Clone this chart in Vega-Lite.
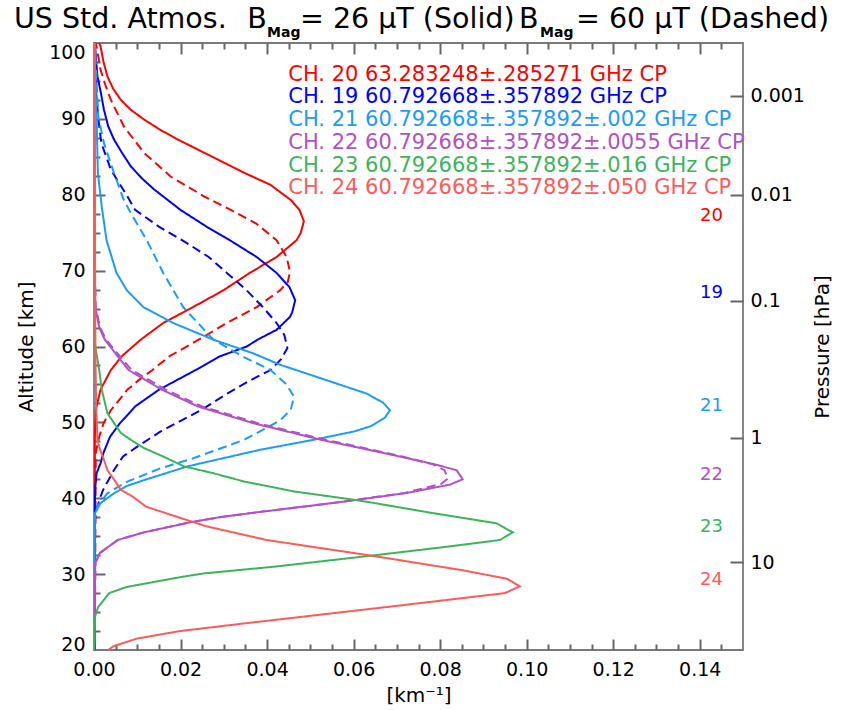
{
  "$schema": "https://vega.github.io/schema/vega-lite/v6.json",
  "width": 649,
  "height": 607,
  "autosize": {"type": "none"},
  "padding": {"left": 94, "top": 43, "right": 100, "bottom": 60},
  "background": "white",
  "config": {
    "font": "DejaVu Sans",
    "view": {"stroke": "#7a7a7a", "strokeWidth": 1.8},
    "axis": {"domain": false, "grid": false, "zindex": 1, "tickColor": "#666666", "tickWidth": 2, "labelColor": "#000000", "labelFontSize": 19, "labelFont": "DejaVu Sans", "titleColor": "#000000", "titleFontSize": 20, "titleFontWeight": "normal", "titleFont": "DejaVu Sans", "labelFlush": false, "labelOverlap": false}
  },
  "datasets": {
    "wf": [
      {"ch":"20","bmag":"26","alt":100,"w":0.0012},{"ch":"20","bmag":"26","alt":99.6,"w":0.0015},{"ch":"20","bmag":"26","alt":97.5,"w":0.0022},{"ch":"20","bmag":"26","alt":95.6,"w":0.0031},{"ch":"20","bmag":"26","alt":94,"w":0.0044},{"ch":"20","bmag":"26","alt":92.5,"w":0.0062},{"ch":"20","bmag":"26","alt":91.2,"w":0.0085},{"ch":"20","bmag":"26","alt":89.9,"w":0.0116},{"ch":"20","bmag":"26","alt":88.6,"w":0.0152},{"ch":"20","bmag":"26","alt":87.3,"w":0.0193},{"ch":"20","bmag":"26","alt":85.1,"w":0.027},{"ch":"20","bmag":"26","alt":82.9,"w":0.0347},{"ch":"20","bmag":"26","alt":81.3,"w":0.0408},{"ch":"20","bmag":"26","alt":79.3,"w":0.0455},{"ch":"20","bmag":"26","alt":78,"w":0.0475},{"ch":"20","bmag":"26","alt":76.5,"w":0.0485},{"ch":"20","bmag":"26","alt":75,"w":0.0478},{"ch":"20","bmag":"26","alt":74,"w":0.0468},{"ch":"20","bmag":"26","alt":71.8,"w":0.0422},{"ch":"20","bmag":"26","alt":69.7,"w":0.036},{"ch":"20","bmag":"26","alt":67.4,"w":0.0299},{"ch":"20","bmag":"26","alt":65.2,"w":0.0229},{"ch":"20","bmag":"26","alt":63.1,"w":0.016},{"ch":"20","bmag":"26","alt":60.9,"w":0.0108},{"ch":"20","bmag":"26","alt":58.7,"w":0.0064},{"ch":"20","bmag":"26","alt":56.9,"w":0.0039},{"ch":"20","bmag":"26","alt":54.3,"w":0.0015},{"ch":"20","bmag":"26","alt":51.6,"w":0.0004},{"ch":"20","bmag":"26","alt":48,"w":0.0002},{"ch":"20","bmag":"26","alt":20,"w":0.0002},
      {"ch":"20","bmag":"60","alt":100,"w":0.0004},{"ch":"20","bmag":"60","alt":98.5,"w":0.0009},{"ch":"20","bmag":"60","alt":96.5,"w":0.0015},{"ch":"20","bmag":"60","alt":94.5,"w":0.0026},{"ch":"20","bmag":"60","alt":92.5,"w":0.0039},{"ch":"20","bmag":"60","alt":89,"w":0.0069},{"ch":"20","bmag":"60","alt":85.5,"w":0.0116},{"ch":"20","bmag":"60","alt":82.4,"w":0.0177},{"ch":"20","bmag":"60","alt":79.8,"w":0.0254},{"ch":"20","bmag":"60","alt":78,"w":0.0316},{"ch":"20","bmag":"60","alt":76.2,"w":0.0375},{"ch":"20","bmag":"60","alt":74,"w":0.0422},{"ch":"20","bmag":"60","alt":71.8,"w":0.0445},{"ch":"20","bmag":"60","alt":69.9,"w":0.0453},{"ch":"20","bmag":"60","alt":68.5,"w":0.0448},{"ch":"20","bmag":"60","alt":67.4,"w":0.043},{"ch":"20","bmag":"60","alt":65.2,"w":0.0376},{"ch":"20","bmag":"60","alt":63.1,"w":0.0307},{"ch":"20","bmag":"60","alt":60.9,"w":0.0242},{"ch":"20","bmag":"60","alt":58.7,"w":0.0174},{"ch":"20","bmag":"60","alt":56.9,"w":0.0135},{"ch":"20","bmag":"60","alt":55.5,"w":0.0102},{"ch":"20","bmag":"60","alt":54.3,"w":0.0077},{"ch":"20","bmag":"60","alt":51.6,"w":0.0039},{"ch":"20","bmag":"60","alt":49.9,"w":0.0022},{"ch":"20","bmag":"60","alt":48.1,"w":0.0012},{"ch":"20","bmag":"60","alt":46,"w":0.0004},{"ch":"20","bmag":"60","alt":20,"w":0.0002},
      {"ch":"19","bmag":"26","alt":100,"w":0.0002},{"ch":"19","bmag":"26","alt":97.5,"w":0.0005},{"ch":"19","bmag":"26","alt":95.6,"w":0.0008},{"ch":"19","bmag":"26","alt":93.4,"w":0.0016},{"ch":"19","bmag":"26","alt":91.2,"w":0.0023},{"ch":"19","bmag":"26","alt":89,"w":0.0033},{"ch":"19","bmag":"26","alt":87.3,"w":0.0046},{"ch":"19","bmag":"26","alt":85.5,"w":0.0065},{"ch":"19","bmag":"26","alt":83.75,"w":0.0085},{"ch":"19","bmag":"26","alt":82.2,"w":0.011},{"ch":"19","bmag":"26","alt":80.7,"w":0.0139},{"ch":"19","bmag":"26","alt":78,"w":0.02},{"ch":"19","bmag":"26","alt":75.8,"w":0.026},{"ch":"19","bmag":"26","alt":74,"w":0.0314},{"ch":"19","bmag":"26","alt":71.8,"w":0.0376},{"ch":"19","bmag":"26","alt":69.7,"w":0.0422},{"ch":"19","bmag":"26","alt":67.8,"w":0.0452},{"ch":"19","bmag":"26","alt":66.1,"w":0.0465},{"ch":"19","bmag":"26","alt":64.5,"w":0.0458},{"ch":"19","bmag":"26","alt":63.9,"w":0.0453},{"ch":"19","bmag":"26","alt":62.2,"w":0.0422},{"ch":"19","bmag":"26","alt":60.9,"w":0.0378},{"ch":"19","bmag":"26","alt":60,"w":0.0353},{"ch":"19","bmag":"26","alt":58.7,"w":0.0291},{"ch":"19","bmag":"26","alt":56.9,"w":0.0235},{"ch":"19","bmag":"26","alt":54.3,"w":0.015},{"ch":"19","bmag":"26","alt":52.1,"w":0.0095},{"ch":"19","bmag":"26","alt":50.75,"w":0.0074},{"ch":"19","bmag":"26","alt":49.9,"w":0.006},{"ch":"19","bmag":"26","alt":48.1,"w":0.0037},{"ch":"19","bmag":"26","alt":46,"w":0.0022},{"ch":"19","bmag":"26","alt":44.6,"w":0.0015},{"ch":"19","bmag":"26","alt":43.3,"w":0.0006},{"ch":"19","bmag":"26","alt":41.5,"w":0.0003},{"ch":"19","bmag":"26","alt":38,"w":0.0001},{"ch":"19","bmag":"26","alt":20,"w":0},
      {"ch":"19","bmag":"60","alt":100,"w":0.0001},{"ch":"19","bmag":"60","alt":96,"w":0.0003},{"ch":"19","bmag":"60","alt":93.4,"w":0.0005},{"ch":"19","bmag":"60","alt":90,"w":0.001},{"ch":"19","bmag":"60","alt":86.8,"w":0.0017},{"ch":"19","bmag":"60","alt":83.3,"w":0.0039},{"ch":"19","bmag":"60","alt":79.8,"w":0.0077},{"ch":"19","bmag":"60","alt":78,"w":0.0095},{"ch":"19","bmag":"60","alt":75.8,"w":0.015},{"ch":"19","bmag":"60","alt":73.8,"w":0.021},{"ch":"19","bmag":"60","alt":71.8,"w":0.0265},{"ch":"19","bmag":"60","alt":69.7,"w":0.0307},{"ch":"19","bmag":"60","alt":67.4,"w":0.0353},{"ch":"19","bmag":"60","alt":65.2,"w":0.039},{"ch":"19","bmag":"60","alt":63.1,"w":0.0422},{"ch":"19","bmag":"60","alt":61.5,"w":0.044},{"ch":"19","bmag":"60","alt":59.8,"w":0.0447},{"ch":"19","bmag":"60","alt":58.3,"w":0.0432},{"ch":"19","bmag":"60","alt":56.9,"w":0.0408},{"ch":"19","bmag":"60","alt":55.5,"w":0.036},{"ch":"19","bmag":"60","alt":53.8,"w":0.0308},{"ch":"19","bmag":"60","alt":51.6,"w":0.0247},{"ch":"19","bmag":"60","alt":48.8,"w":0.0154},{"ch":"19","bmag":"60","alt":46.8,"w":0.01},{"ch":"19","bmag":"60","alt":45.5,"w":0.0067},{"ch":"19","bmag":"60","alt":43.7,"w":0.0046},{"ch":"19","bmag":"60","alt":41.1,"w":0.0021},{"ch":"19","bmag":"60","alt":40.2,"w":0.0015},{"ch":"19","bmag":"60","alt":38,"w":0.0003},{"ch":"19","bmag":"60","alt":34,"w":0.0001},{"ch":"19","bmag":"60","alt":20,"w":0},
      {"ch":"21","bmag":"26","alt":100,"w":0.0001},{"ch":"21","bmag":"26","alt":95,"w":0.0003},{"ch":"21","bmag":"26","alt":90,"w":0.0006},{"ch":"21","bmag":"26","alt":82.8,"w":0.0009},{"ch":"21","bmag":"26","alt":78.4,"w":0.0018},{"ch":"21","bmag":"26","alt":74,"w":0.0029},{"ch":"21","bmag":"26","alt":69.7,"w":0.0052},{"ch":"21","bmag":"26","alt":67.4,"w":0.0076},{"ch":"21","bmag":"26","alt":65.2,"w":0.0114},{"ch":"21","bmag":"26","alt":63.1,"w":0.0183},{"ch":"21","bmag":"26","alt":60.9,"w":0.0276},{"ch":"21","bmag":"26","alt":59.1,"w":0.0368},{"ch":"21","bmag":"26","alt":57.6,"w":0.043},{"ch":"21","bmag":"26","alt":55.7,"w":0.053},{"ch":"21","bmag":"26","alt":53.8,"w":0.063},{"ch":"21","bmag":"26","alt":52.6,"w":0.0668},{"ch":"21","bmag":"26","alt":51.6,"w":0.0684},{"ch":"21","bmag":"26","alt":50.6,"w":0.0672},{"ch":"21","bmag":"26","alt":49.5,"w":0.064},{"ch":"21","bmag":"26","alt":48.8,"w":0.0601},{"ch":"21","bmag":"26","alt":47.7,"w":0.0507},{"ch":"21","bmag":"26","alt":46.4,"w":0.0385},{"ch":"21","bmag":"26","alt":45.1,"w":0.0285},{"ch":"21","bmag":"26","alt":44.2,"w":0.0216},{"ch":"21","bmag":"26","alt":43.3,"w":0.0166},{"ch":"21","bmag":"26","alt":42.4,"w":0.0116},{"ch":"21","bmag":"26","alt":41.6,"w":0.0075},{"ch":"21","bmag":"26","alt":40.65,"w":0.0046},{"ch":"21","bmag":"26","alt":39.35,"w":0.0015},{"ch":"21","bmag":"26","alt":38,"w":0.0002},{"ch":"21","bmag":"26","alt":20,"w":0},
      {"ch":"21","bmag":"60","alt":100,"w":0.0002},{"ch":"21","bmag":"60","alt":95,"w":0.0006},{"ch":"21","bmag":"60","alt":90.3,"w":0.001},{"ch":"21","bmag":"60","alt":86.8,"w":0.0023},{"ch":"21","bmag":"60","alt":82.9,"w":0.0046},{"ch":"21","bmag":"60","alt":79.3,"w":0.0069},{"ch":"21","bmag":"60","alt":77.6,"w":0.0085},{"ch":"21","bmag":"60","alt":74,"w":0.0122},{"ch":"21","bmag":"60","alt":69.7,"w":0.016},{"ch":"21","bmag":"60","alt":65.2,"w":0.0206},{"ch":"21","bmag":"60","alt":60.9,"w":0.0276},{"ch":"21","bmag":"60","alt":58.5,"w":0.035},{"ch":"21","bmag":"60","alt":56.9,"w":0.0408},{"ch":"21","bmag":"60","alt":55,"w":0.0445},{"ch":"21","bmag":"60","alt":53.4,"w":0.0462},{"ch":"21","bmag":"60","alt":51.7,"w":0.0455},{"ch":"21","bmag":"60","alt":50.3,"w":0.0431},{"ch":"21","bmag":"60","alt":49,"w":0.039},{"ch":"21","bmag":"60","alt":47.7,"w":0.0347},{"ch":"21","bmag":"60","alt":45.3,"w":0.0231},{"ch":"21","bmag":"60","alt":43.95,"w":0.0154},{"ch":"21","bmag":"60","alt":42.2,"w":0.0077},{"ch":"21","bmag":"60","alt":40.65,"w":0.0031},{"ch":"21","bmag":"60","alt":39,"w":0.0008},{"ch":"21","bmag":"60","alt":37,"w":0.0001},{"ch":"21","bmag":"60","alt":20,"w":0},
      {"ch":"22","bmag":"26","alt":100,"w":0.0001},{"ch":"22","bmag":"26","alt":70,"w":0.0002},{"ch":"22","bmag":"26","alt":65.2,"w":0.0003},{"ch":"22","bmag":"26","alt":62.5,"w":0.0012},{"ch":"22","bmag":"26","alt":60.9,"w":0.0025},{"ch":"22","bmag":"26","alt":58.7,"w":0.0055},{"ch":"22","bmag":"26","alt":56.9,"w":0.008},{"ch":"22","bmag":"26","alt":54.3,"w":0.0157},{"ch":"22","bmag":"26","alt":52.1,"w":0.024},{"ch":"22","bmag":"26","alt":49.9,"w":0.0368},{"ch":"22","bmag":"26","alt":47.7,"w":0.0525},{"ch":"22","bmag":"26","alt":46.8,"w":0.0601},{"ch":"22","bmag":"26","alt":45.5,"w":0.0707},{"ch":"22","bmag":"26","alt":44.5,"w":0.0785},{"ch":"22","bmag":"26","alt":43.7,"w":0.0838},{"ch":"22","bmag":"26","alt":42.5,"w":0.0852},{"ch":"22","bmag":"26","alt":41.8,"w":0.0823},{"ch":"22","bmag":"26","alt":40.7,"w":0.0723},{"ch":"22","bmag":"26","alt":39.5,"w":0.057},{"ch":"22","bmag":"26","alt":38.1,"w":0.037},{"ch":"22","bmag":"26","alt":37.5,"w":0.029},{"ch":"22","bmag":"26","alt":36.8,"w":0.022},{"ch":"22","bmag":"26","alt":35.5,"w":0.0115},{"ch":"22","bmag":"26","alt":34.5,"w":0.0055},{"ch":"22","bmag":"26","alt":33.6,"w":0.0033},{"ch":"22","bmag":"26","alt":32.8,"w":0.0014},{"ch":"22","bmag":"26","alt":31.5,"w":0.0003},{"ch":"22","bmag":"26","alt":20,"w":0},
      {"ch":"22","bmag":"60","alt":100,"w":0.0001},{"ch":"22","bmag":"60","alt":70,"w":0.0002},{"ch":"22","bmag":"60","alt":65.2,"w":0.0004},{"ch":"22","bmag":"60","alt":62.5,"w":0.0014},{"ch":"22","bmag":"60","alt":60.9,"w":0.0028},{"ch":"22","bmag":"60","alt":58.7,"w":0.006},{"ch":"22","bmag":"60","alt":56.9,"w":0.0087},{"ch":"22","bmag":"60","alt":54.3,"w":0.0166},{"ch":"22","bmag":"60","alt":52.1,"w":0.025},{"ch":"22","bmag":"60","alt":49.9,"w":0.0378},{"ch":"22","bmag":"60","alt":47.7,"w":0.0535},{"ch":"22","bmag":"60","alt":46.8,"w":0.061},{"ch":"22","bmag":"60","alt":45.5,"w":0.0712},{"ch":"22","bmag":"60","alt":44.5,"w":0.0782},{"ch":"22","bmag":"60","alt":43.7,"w":0.081},{"ch":"22","bmag":"60","alt":42.6,"w":0.0818},{"ch":"22","bmag":"60","alt":41.9,"w":0.0803},{"ch":"22","bmag":"60","alt":40.7,"w":0.0718},{"ch":"22","bmag":"60","alt":39.5,"w":0.057},{"ch":"22","bmag":"60","alt":38.1,"w":0.037},{"ch":"22","bmag":"60","alt":37.5,"w":0.029},{"ch":"22","bmag":"60","alt":36.8,"w":0.022},{"ch":"22","bmag":"60","alt":35.5,"w":0.0115},{"ch":"22","bmag":"60","alt":34.5,"w":0.0055},{"ch":"22","bmag":"60","alt":33.6,"w":0.0033},{"ch":"22","bmag":"60","alt":32.8,"w":0.0014},{"ch":"22","bmag":"60","alt":31.5,"w":0.0003},{"ch":"22","bmag":"60","alt":20,"w":0},
      {"ch":"23","bmag":"26","alt":100,"w":0.0001},{"ch":"23","bmag":"26","alt":70,"w":0.0001},{"ch":"23","bmag":"26","alt":60,"w":0.0003},{"ch":"23","bmag":"26","alt":56.9,"w":0.0012},{"ch":"23","bmag":"26","alt":54.3,"w":0.0018},{"ch":"23","bmag":"26","alt":51.2,"w":0.0031},{"ch":"23","bmag":"26","alt":48.6,"w":0.0062},{"ch":"23","bmag":"26","alt":47.7,"w":0.0085},{"ch":"23","bmag":"26","alt":46.6,"w":0.0116},{"ch":"23","bmag":"26","alt":45.5,"w":0.016},{"ch":"23","bmag":"26","alt":44.2,"w":0.0208},{"ch":"23","bmag":"26","alt":43.3,"w":0.0276},{"ch":"23","bmag":"26","alt":42.2,"w":0.0347},{"ch":"23","bmag":"26","alt":41.5,"w":0.041},{"ch":"23","bmag":"26","alt":40.9,"w":0.0462},{"ch":"23","bmag":"26","alt":39.8,"w":0.0601},{"ch":"23","bmag":"26","alt":39.4,"w":0.0645},{"ch":"23","bmag":"26","alt":38.1,"w":0.0777},{"ch":"23","bmag":"26","alt":36.7,"w":0.093},{"ch":"23","bmag":"26","alt":35.5,"w":0.0968},{"ch":"23","bmag":"26","alt":34.5,"w":0.0938},{"ch":"23","bmag":"26","alt":33.6,"w":0.0815},{"ch":"23","bmag":"26","alt":32.3,"w":0.062},{"ch":"23","bmag":"26","alt":31,"w":0.042},{"ch":"23","bmag":"26","alt":30.1,"w":0.0255},{"ch":"23","bmag":"26","alt":29.6,"w":0.0199},{"ch":"23","bmag":"26","alt":28.3,"w":0.0075},{"ch":"23","bmag":"26","alt":27.5,"w":0.0035},{"ch":"23","bmag":"26","alt":25.6,"w":0.0009},{"ch":"23","bmag":"26","alt":24.3,"w":0.0002},{"ch":"23","bmag":"26","alt":20,"w":0},
      {"ch":"24","bmag":"26","alt":100,"w":0.0001},{"ch":"24","bmag":"26","alt":60,"w":0.0003},{"ch":"24","bmag":"26","alt":52,"w":0.0005},{"ch":"24","bmag":"26","alt":47.7,"w":0.0008},{"ch":"24","bmag":"26","alt":46.4,"w":0.0014},{"ch":"24","bmag":"26","alt":45.4,"w":0.0021},{"ch":"24","bmag":"26","alt":43.7,"w":0.0031},{"ch":"24","bmag":"26","alt":42,"w":0.0052},{"ch":"24","bmag":"26","alt":41.1,"w":0.0062},{"ch":"24","bmag":"26","alt":40.2,"w":0.009},{"ch":"24","bmag":"26","alt":38.9,"w":0.012},{"ch":"24","bmag":"26","alt":37.4,"w":0.02},{"ch":"24","bmag":"26","alt":36.3,"w":0.026},{"ch":"24","bmag":"26","alt":34.5,"w":0.0399},{"ch":"24","bmag":"26","alt":32.4,"w":0.0645},{"ch":"24","bmag":"26","alt":30.5,"w":0.0853},{"ch":"24","bmag":"26","alt":29.4,"w":0.0954},{"ch":"24","bmag":"26","alt":28.4,"w":0.0984},{"ch":"24","bmag":"26","alt":27.5,"w":0.095},{"ch":"24","bmag":"26","alt":25.7,"w":0.0682},{"ch":"24","bmag":"26","alt":23.5,"w":0.0347},{"ch":"24","bmag":"26","alt":22.5,"w":0.0199},{"ch":"24","bmag":"26","alt":21.5,"w":0.0099},{"ch":"24","bmag":"26","alt":20.5,"w":0.0045},{"ch":"24","bmag":"26","alt":20,"w":0.0033}
    ],
    "legend": [
      {"ch":"20","label":"CH. 20 63.283248±.285271 GHz CP","x":0.0449,"alt":95.78},
      {"ch":"19","label":"CH. 19 60.792668±.357892 GHz CP","x":0.0449,"alt":92.92},
      {"ch":"21","label":"CH. 21 60.792668±.357892±.002 GHz CP","x":0.0449,"alt":89.85},
      {"ch":"22","label":"CH. 22 60.792668±.357892±.0055 GHz CP","x":0.0449,"alt":86.86},
      {"ch":"23","label":"CH. 23 60.792668±.357892±.016 GHz CP","x":0.0449,"alt":83.79},
      {"ch":"24","label":"CH. 24 60.792668±.357892±.050 GHz CP","x":0.0449,"alt":80.85}
    ],
    "chlab": [
      {"ch":"20","label":"20","x":0.1427,"alt":77.2},
      {"ch":"19","label":"19","x":0.1427,"alt":67.0},
      {"ch":"21","label":"21","x":0.1427,"alt":52.16},
      {"ch":"22","label":"22","x":0.1427,"alt":43.07},
      {"ch":"23","label":"23","x":0.1427,"alt":36.25},
      {"ch":"24","label":"24","x":0.1427,"alt":29.23}
    ],
    "titlemain": [
      {"label":"US Std. Atmos.","x":-0.0185,"alt":103.16},
      {"label":"B","x":0.0354,"alt":103.16},
      {"label":"= 26 μT (Solid)","x":0.0476,"alt":103.16},
      {"label":"B","x":0.0982,"alt":103.16},
      {"label":"= 60 μT (Dashed)","x":0.1114,"alt":103.16}
    ],
    "titlesub": [
      {"label":"Mag","x":0.04,"alt":101.32},
      {"label":"Mag","x":0.1031,"alt":101.32}
    ]
  },
  "layer": [
    {
      "mark": {"type": "rule", "color": "#ff0000", "strokeWidth": 2.5},
      "encoding": {"x": {"datum": 0, "type": "quantitative", "scale": {"domain": [0, 0.15], "nice": false, "zero": false}, "axis": null}}
    },
    {
      "data": {"name": "wf"},
      "mark": {"type": "line", "strokeWidth": 2, "clip": true},
      "encoding": {
        "x": {"field": "w", "type": "quantitative", "scale": {"domain": [0, 0.15], "nice": false, "zero": false},
              "axis": {"orient": "bottom", "values": [0, 0.02, 0.04, 0.06, 0.08, 0.1, 0.12, 0.14], "format": ".2f", "title": "[km⁻¹]", "ticks": false, "labelPadding": 10, "titlePadding": 6}},
        "y": {"field": "alt", "type": "quantitative", "scale": {"domain": [20, 100], "nice": false, "zero": false},
              "axis": {"orient": "left", "values": [20, 30, 40, 50, 60, 70, 80, 90, 100], "title": "Altitude [km]", "ticks": false, "labelPadding": 9, "titlePadding": 12,
                       "labelBaseline": {"condition": [{"test": "datum.value == 100", "value": "top"}, {"test": "datum.value == 20", "value": "alphabetic"}], "value": "middle"}}},
        "color": {"field": "ch", "type": "nominal", "scale": {"domain": ["20", "19", "21", "22", "23", "24"], "range": ["#ff0000", "#0000ff", "#1a9cff", "#b44fc8", "#3cb55a", "#ff5a5a"]}, "legend": null},
        "strokeDash": {"field": "bmag", "type": "nominal", "scale": {"domain": ["26", "60"], "range": [[1, 0], [9, 5]]}, "legend": null},
        "order": {"field": "alt", "type": "quantitative"}
      }
    },
    {
      "data": {"name": "legend"},
      "mark": {"type": "text", "align": "left", "baseline": "middle", "fontSize": 21},
      "encoding": {
        "x": {"field": "x", "type": "quantitative", "scale": {"domain": [0, 0.15], "nice": false, "zero": false},
              "axis": {"orient": "bottom", "values": [0.005, 0.01, 0.015, 0.025, 0.03, 0.035, 0.045, 0.05, 0.055, 0.065, 0.07, 0.075, 0.085, 0.09, 0.095, 0.105, 0.11, 0.115, 0.125, 0.13, 0.135, 0.145], "labels": false, "title": null, "tickSize": 6, "offset": -6}},
        "y": {"field": "alt", "type": "quantitative", "scale": {"domain": [20, 100], "nice": false, "zero": false},
              "axis": {"orient": "left", "values": [22.5, 25, 27.5, 32.5, 35, 37.5, 42.5, 45, 47.5, 52.5, 55, 57.5, 62.5, 65, 67.5, 72.5, 75, 77.5, 82.5, 85, 87.5, 92.5, 95, 97.5], "labels": false, "title": null, "tickSize": 6, "offset": -6}},
        "color": {"field": "ch", "type": "nominal", "legend": null},
        "text": {"field": "label"}
      }
    },
    {
      "data": {"name": "chlab"},
      "mark": {"type": "text", "align": "center", "baseline": "middle", "fontSize": 18},
      "encoding": {
        "x": {"field": "x", "type": "quantitative", "scale": {"domain": [0, 0.15], "nice": false, "zero": false},
              "axis": {"orient": "top", "values": [0.02, 0.04, 0.06, 0.08, 0.1, 0.12, 0.14], "labels": false, "title": null, "tickSize": 11, "offset": -11}},
        "y": {"field": "alt", "type": "quantitative", "scale": {"domain": [20, 100], "nice": false, "zero": false},
              "axis": {"orient": "right", "values": [93.05, 79.97, 66.04, 47.98, 31.56], "labels": false, "title": null, "tickSize": 13, "offset": -13}},
        "color": {"field": "ch", "type": "nominal", "legend": null},
        "text": {"field": "label"}
      }
    },
    {
      "data": {"name": "titlemain"},
      "mark": {"type": "text", "align": "left", "baseline": "middle", "fontSize": 28.5, "color": "#000000"},
      "encoding": {
        "x": {"field": "x", "type": "quantitative", "scale": {"domain": [0, 0.15], "nice": false, "zero": false},
              "axis": {"orient": "top", "values": [0.005, 0.01, 0.015, 0.025, 0.03, 0.035, 0.045, 0.05, 0.055, 0.065, 0.07, 0.075, 0.085, 0.09, 0.095, 0.105, 0.11, 0.115, 0.125, 0.13, 0.135, 0.145], "labels": false, "title": null, "tickSize": 6, "offset": -6}},
        "y": {"field": "alt", "type": "quantitative", "scale": {"domain": [20, 100], "nice": false, "zero": false},
              "axis": {"orient": "left", "values": [30, 40, 50, 60, 70, 80, 90], "labels": false, "title": null, "tickSize": 11, "offset": -11}},
        "text": {"field": "label"}
      }
    },
    {
      "data": {"name": "titlesub"},
      "mark": {"type": "text", "align": "left", "baseline": "middle", "fontSize": 14, "fontWeight": "bold", "color": "#000000"},
      "encoding": {
        "x": {"field": "x", "type": "quantitative", "scale": {"domain": [0, 0.15], "nice": false, "zero": false},
              "axis": {"orient": "bottom", "values": [0.02, 0.04, 0.06, 0.08, 0.1, 0.12, 0.14], "labels": false, "title": null, "tickSize": 11, "offset": -11}},
        "y": {"field": "alt", "type": "quantitative", "scale": {"domain": [20, 100], "nice": false, "zero": false},
              "axis": {"orient": "right", "values": [93.05, 79.97, 66.04, 47.98, 31.56], "labelExpr": "datum.value > 90 ? '0.001' : datum.value > 75 ? '0.01' : datum.value > 60 ? '0.1' : datum.value > 40 ? '1' : '10'", "ticks": false, "labelPadding": 7, "title": "Pressure [hPa]", "titleAngle": -90, "titleBaseline": "top", "titlePadding": 8}},
        "text": {"field": "label"}
      }
    }
  ],
  "resolve": {"axis": {"x": "independent", "y": "independent"}}
}
